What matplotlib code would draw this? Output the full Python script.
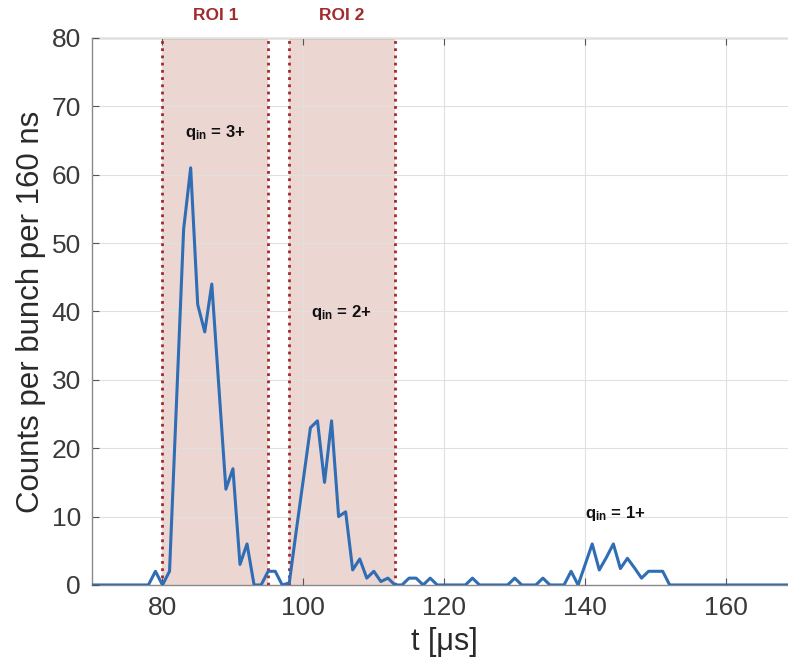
import numpy as np
import matplotlib
matplotlib.use("Agg")
import matplotlib.pyplot as plt

plt.rcParams['font.family'] = ['Liberation Sans', 'DejaVu Sans']
plt.rcParams['mathtext.fontset'] = 'custom'
plt.rcParams['mathtext.rm'] = 'Liberation Sans'
plt.rcParams['mathtext.bf'] = 'Liberation Sans:bold'

# time bins (us) and counts per bunch per 160 ns
t = np.arange(70, 171)
counts = np.zeros(len(t))
peak_t = [79, 80, 81, 82, 83, 84, 85, 86, 87, 88, 89, 90, 91, 92, 93, 94, 95, 96, 97,
          98, 99, 100, 101, 102, 103, 104, 105, 106, 107, 108, 109, 110, 111, 112, 113,
          114, 115, 116, 117, 118, 124, 130, 134, 138, 139, 140, 141, 142, 143, 144,
          145, 146, 147, 148, 149, 150, 151, 152]
peak_v = [2, 0, 2, 27, 52, 61, 41, 37, 44, 29, 14, 17, 3, 6, 0, 0, 2, 2, 0,
          0.3, 8, 15.5, 23, 24, 15, 24, 10, 10.7, 2.2, 3.8, 1, 2, 0.5, 1, 0,
          0, 1, 1, 0, 1, 1, 1, 1, 2, 0, 3, 6, 2.2, 4, 6,
          2.4, 3.9, 2.5, 1, 2, 2, 2, 0]
counts[np.searchsorted(t, peak_t)] = peak_v

rois = [(80, 95, "ROI 1"), (98, 113, "ROI 2")]
charge_labels = [(87.5, 66.2, "3+"), (105.3, 39.8, "2+"), (144.3, 10.4, "1+")]

roi_red = '#a12a2c'
fig = plt.figure(figsize=(7.88, 6.68), dpi=100)
ax = fig.add_axes([0.1168, 0.1243, 0.894, 0.819])

for x0, x1, name in rois:
    ax.axvspan(x0, x1, color='#ecd6d2', zorder=0, lw=0)
    ax.axvline(x0, color=roi_red, ls=(0, (1, 1.6)), lw=2, zorder=3)
    ax.axvline(x1, color=roi_red, ls=(0, (1, 1.6)), lw=2, zorder=3)
    ax.text((x0 + x1) / 2, 83.2, name, color=roi_red, fontsize=12.5, fontweight='bold',
            ha='center', va='center', clip_on=False)

ax.plot(t, counts, color='#2f6db5', lw=2.2, zorder=4)

for x, y, q in charge_labels:
    ax.text(x, y, r'$\mathbf{q_{in}}$ = ' + q, fontsize=12, fontweight='bold',
            ha='center', va='center', color='#111111', zorder=5)

ax.set_xlim(70, 170)
ax.set_ylim(0, 80)
ax.set_xticks(np.arange(80, 161, 20))
ax.set_yticks(np.arange(0, 81, 10))
ax.grid(True, color='#e0e0e0', lw=0.8, zorder=1)
ax.set_axisbelow(False)
for s in ax.spines.values():
    s.set_color('#8a8a8a')
    s.set_linewidth(1.0)
ax.tick_params(direction='in', top=True, right=True, length=5, color='#555555',
               labelsize=19, labelcolor='#3a3a3a', pad=8)
ax.set_xlabel('t [μs]', fontsize=22, color='#2a2a2a', labelpad=5)
ax.set_ylabel('Counts per bunch per 160 ns', fontsize=22.5, color='#2a2a2a', labelpad=4)

fig.savefig('out.png', dpi=100)
